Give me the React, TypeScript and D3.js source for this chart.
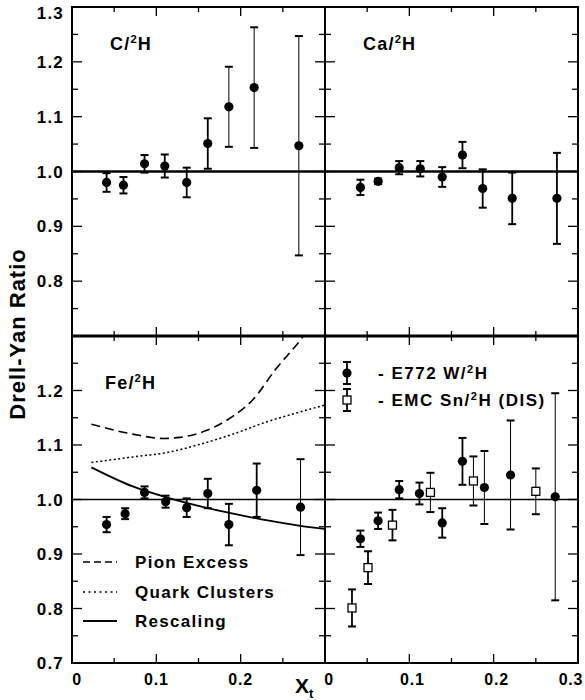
import React from 'react';
import * as d3 from 'd3';

// C/2H
const cX = [0.041, 0.061, 0.086, 0.110, 0.136, 0.161, 0.186, 0.216, 0.269];
const cY = [0.980, 0.975, 1.014, 1.010, 0.980, 1.051, 1.118, 1.153, 1.047];
const cE = [0.017, 0.015, 0.016, 0.021, 0.027, 0.046, 0.073, 0.110, 0.200];

// Ca/2H
const caX = [0.042, 0.063, 0.088, 0.113, 0.139, 0.163, 0.187, 0.222, 0.275];
const caY = [0.971, 0.982, 1.007, 1.005, 0.990, 1.030, 0.969, 0.951, 0.951];
const caE = [0.014, 0.005, 0.012, 0.014, 0.018, 0.024, 0.035, 0.047, 0.083];

// Fe/2H
const feX = [0.041, 0.063, 0.086, 0.111, 0.136, 0.161, 0.186, 0.219, 0.271];
const feY = [0.954, 0.974, 1.013, 0.996, 0.985, 1.011, 0.954, 1.017, 0.986];
const feE = [0.014, 0.010, 0.011, 0.011, 0.017, 0.027, 0.038, 0.049, 0.088];

// model curves (Fe)
const curveX = [0.023, 0.072, 0.108, 0.128, 0.160, 0.191, 0.215, 0.242, 0.272, 0.290];
const pionY = [1.138, 1.120, 1.112, 1.114, 1.127, 1.153, 1.184, 1.240, 1.295, 1.335];
const clusterX = [0.023, 0.072, 0.112, 0.151, 0.191, 0.230, 0.269, 0.299];
const clusterY = [1.068, 1.078, 1.086, 1.101, 1.120, 1.142, 1.160, 1.173];
const rescaleX = [0.023, 0.072, 0.112, 0.151, 0.191, 0.230, 0.269, 0.299];
const rescaleY = [1.059, 1.024, 1.004, 0.988, 0.974, 0.962, 0.952, 0.946];

// E772 W/2H
const wX = [0.042, 0.063, 0.088, 0.112, 0.139, 0.163, 0.189, 0.220, 0.273];
const wY = [0.928, 0.961, 1.018, 1.011, 0.957, 1.070, 1.022, 1.045, 1.005];
const wE = [0.015, 0.015, 0.016, 0.020, 0.027, 0.043, 0.067, 0.100, 0.190];

// EMC Sn/2H (DIS)
const snX = [0.032, 0.051, 0.080, 0.125, 0.176, 0.250];
const snY = [0.801, 0.875, 0.953, 1.013, 1.034, 1.015];
const snE = [0.034, 0.030, 0.028, 0.036, 0.045, 0.042];

const xTicks = [0, 0.05, 0.1, 0.15, 0.2, 0.25, 0.3];
const yTicks = [0.7, 0.75, 0.8, 0.85, 0.9, 0.95, 1.0, 1.05, 1.1, 1.15, 1.2, 1.25, 1.3];
const topYLabels = ['1.3', '1.2', '1.1', '1.0', '0.9', '0.8'];
const botYLabels = ['1.2', '1.1', '1.0', '0.9', '0.8', '0.7'];
const leftXLabels = ['0', '0.1', '0.2'];
const rightXLabels = ['0', '0.1', '0.2', '0.3'];
const legendCurves = ['Pion Excess', 'Quark Clusters', 'Rescaling'];

const FONT = 'Liberation Sans, Arial, Helvetica, sans-serif';

const L = 72, M = 325, R = 578, T = 7, H = 336, B = 663;
const xL = d3.scaleLinear().domain([0, 0.3]).range([L, M]);
const xR = d3.scaleLinear().domain([0, 0.3]).range([M, R]);
const yT = d3.scaleLinear().domain([0.7, 1.3]).range([H, T]);
const yB = d3.scaleLinear().domain([0.7, 1.3]).range([B, H]);

type Scale = d3.ScaleLinear<number, number>;

const isMajor = (v: number) => Math.abs(v * 10 - Math.round(v * 10)) < 1e-6;

function Ticks({ x, y }: { x: Scale; y: Scale }) {
  const [x0, x1] = x.range();
  const [y1, y0] = y.range();
  const out: React.ReactNode[] = [];
  xTicks.forEach((t, i) => {
    const len = isMajor(t) ? 9 : 5;
    const px = x(t);
    out.push(<line key={'xb' + i} x1={px} x2={px} y1={y1} y2={y1 - len} />);
    out.push(<line key={'xt' + i} x1={px} x2={px} y1={y0} y2={y0 + len} />);
  });
  yTicks.forEach((t, i) => {
    const len = isMajor(t) ? 10 : 6;
    const py = y(t);
    out.push(<line key={'yl' + i} x1={x0} x2={x0 + len} y1={py} y2={py} />);
    out.push(<line key={'yr' + i} x1={x1} x2={x1 - len} y1={py} y2={py} />);
  });
  return <g stroke="#000" strokeWidth={1.3}>{out}</g>;
}

function ErrPoints({ xs, ys, es, x, y, open, thin }: {
  xs: number[]; ys: number[]; es: number[]; x: Scale; y: Scale; open?: boolean; thin?: number[];
}) {
  return (
    <g>
      {xs.map((xv, i) => {
        const px = x(xv);
        const top = y(ys[i] + es[i]);
        const bot = y(ys[i] - es[i]);
        const sw = thin && thin.includes(i) ? 1 : 1.8;
        return (
          <g key={i} stroke="#000">
            <line x1={px} x2={px} y1={top} y2={bot} strokeWidth={sw} />
            <line x1={px - 4} x2={px + 4} y1={top} y2={top} strokeWidth={2} />
            <line x1={px - 4} x2={px + 4} y1={bot} y2={bot} strokeWidth={2} />
            {open ? (
              <rect x={px - 4} y={y(ys[i]) - 4} width={8} height={8} fill="#fff" strokeWidth={1.3} />
            ) : (
              <circle cx={px} cy={y(ys[i])} r={4.6} fill="#000" stroke="none" />
            )}
          </g>
        );
      })}
    </g>
  );
}

function Ratio({ x, y, label, size = 18 }: { x: number; y: number; label: string; size?: number }) {
  // label like "C" -> C/²H
  return (
    <text x={x} y={y} fontFamily={FONT} fontWeight="bold" fontSize={size} letterSpacing={1.2}>
      {label}/<tspan fontSize={size * 0.62} dy={-size * 0.38}>2</tspan>
      <tspan dy={size * 0.38}>H</tspan>
    </text>
  );
}

export default function App() {
  const line = d3.line<[number, number]>().curve(d3.curveMonotoneX);
  const pionPath = line(curveX.map((v, i) => [xL(v), yB(pionY[i])]));
  const clusterPath = line(clusterX.map((v, i) => [xL(v), yB(clusterY[i])]));
  const rescalePath = line(rescaleX.map((v, i) => [xL(v), yB(rescaleY[i])]));

  const legendY = [562, 592, 621];
  const legendDash = ['7,4', '2,3.5', ''];

  return (
    <svg width={585} height={700} style={{ position: 'absolute', left: 0, top: 0, background: '#fff' }}>
      <defs>
        <clipPath id="feclip">
          <rect x={L} y={H} width={M - L} height={B - H} />
        </clipPath>
      </defs>

      {/* ticks */}
      <Ticks x={xL} y={yT} />
      <Ticks x={xR} y={yT} />
      <Ticks x={xL} y={yB} />
      <Ticks x={xR} y={yB} />

      {/* unity lines */}
      <line x1={L} x2={R} y1={yT(1)} y2={yT(1)} stroke="#000" strokeWidth={2.5} />
      <line x1={L} x2={R} y1={yB(1)} y2={yB(1)} stroke="#000" strokeWidth={1.3} />

      {/* frames */}
      <rect x={L} y={T} width={R - L} height={B - T} fill="none" stroke="#000" strokeWidth={2} />
      <line x1={M} x2={M} y1={T} y2={B} stroke="#000" strokeWidth={2} />
      <line x1={L} x2={R} y1={H} y2={H} stroke="#000" strokeWidth={2.8} />

      {/* model curves */}
      <g clipPath="url(#feclip)" fill="none" stroke="#000">
        <path d={pionPath ?? ''} strokeWidth={1.6} strokeDasharray="9,5" />
        <path d={clusterPath ?? ''} strokeWidth={1.5} strokeDasharray="2,2.5" />
        <path d={rescalePath ?? ''} strokeWidth={1.8} />
      </g>

      {/* data */}
      <ErrPoints xs={cX} ys={cY} es={cE} x={xL} y={yT} thin={[6, 7, 8]} />
      <ErrPoints xs={caX} ys={caY} es={caE} x={xR} y={yT} />
      <ErrPoints xs={feX} ys={feY} es={feE} x={xL} y={yB} thin={[8]} />
      <ErrPoints xs={snX} ys={snY} es={snE} x={xR} y={yB} open thin={[3, 4, 5]} />
      <ErrPoints xs={wX} ys={wY} es={wE} x={xR} y={yB} thin={[6, 7, 8]} />

      {/* panel labels */}
      <Ratio x={110} y={50} label="C" />
      <Ratio x={363} y={50} label="Ca" />
      <Ratio x={105} y={389} label="Fe" />

      {/* curve legend */}
      {legendCurves.map((name, i) => (
        <g key={name}>
          <line x1={83} x2={117} y1={legendY[i]} y2={legendY[i]} stroke="#000"
            strokeWidth={i === 2 ? 2 : 1.6} strokeDasharray={legendDash[i] || undefined} />
          <text x={135} y={legendY[i]} dy="0.35em" fontFamily={FONT} fontWeight="bold"
            fontSize={17} letterSpacing={1.3}>{name}</text>
        </g>
      ))}

      {/* data legend */}
      <g stroke="#000">
        <line x1={347} x2={347} y1={362} y2={384} strokeWidth={1.8} />
        <line x1={343} x2={351} y1={362} y2={362} strokeWidth={2} />
        <line x1={343} x2={351} y1={384} y2={384} strokeWidth={2} />
        <circle cx={347} cy={373} r={4.6} fill="#000" stroke="none" />
        <line x1={347} x2={347} y1={389} y2={411} strokeWidth={1.8} />
        <line x1={343} x2={351} y1={389} y2={389} strokeWidth={2} />
        <line x1={343} x2={351} y1={411} y2={411} strokeWidth={2} />
        <rect x={343} y={396} width={8} height={8} fill="#fff" strokeWidth={1.3} />
      </g>
      <g fontFamily={FONT} fontWeight="bold" fontSize={17} letterSpacing={1.5}>
        <text x={378} y={379}>
          - E772 W/<tspan fontSize={11} dy={-6}>2</tspan><tspan dy={6}>H</tspan>
        </text>
        <text x={378} y={406}>
          - EMC Sn/<tspan fontSize={11} dy={-6}>2</tspan><tspan dy={6}>H (DIS)</tspan>
        </text>
      </g>

      {/* y tick labels */}
      <g fontFamily={FONT} fontWeight="bold" fontSize={17} textAnchor="end" letterSpacing={1.2}>
        {topYLabels.map((s) => (
          <text key={'t' + s} x={64} y={Math.max(yT(+s), 13)} dy="0.36em">{s}</text>
        ))}
        {botYLabels.map((s) => (
          <text key={'b' + s} x={64} y={yB(+s)} dy="0.36em">{s}</text>
        ))}
      </g>

      {/* x tick labels */}
      <g fontFamily={FONT} fontWeight="bold" fontSize={16} textAnchor="middle" letterSpacing={0.8}>
        {leftXLabels.map((s) => (
          <text key={'l' + s} x={xL(+s) + (s === '0' ? 5 : 0)} y={685}>{s}</text>
        ))}
        {rightXLabels.map((s) => (
          <text key={'r' + s} x={s === '0.3' ? 571 : xR(+s) + (s === '0' ? 4 : 3)} y={685}>{s}</text>
        ))}
      </g>

      {/* axis titles */}
      <text x={295} y={693} fontFamily={FONT} fontWeight="bold" fontSize={21}>
        X<tspan fontSize={13} dy={5}>t</tspan>
      </text>
      <text transform="translate(25,334) rotate(-90)" textAnchor="middle" fontFamily={FONT}
        fontWeight="bold" fontSize={22} letterSpacing={1}>Drell-Yan Ratio</text>
    </svg>
  );
}
